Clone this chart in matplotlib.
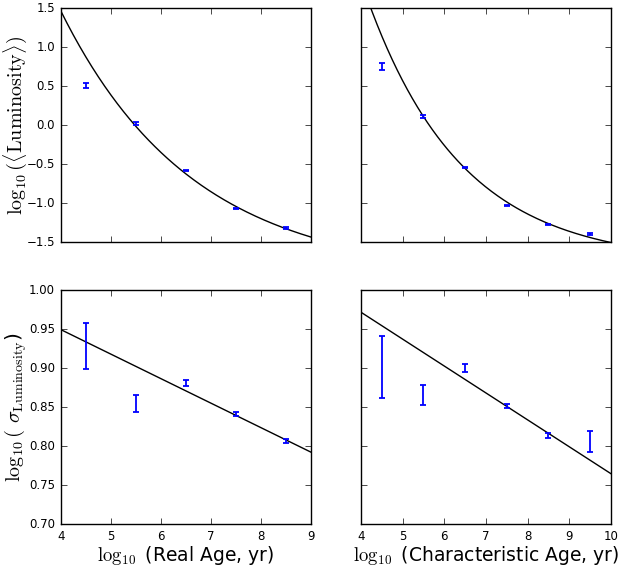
import matplotlib
matplotlib.use('Agg')
import matplotlib.pyplot as plt
import numpy as np

plt.style.use('classic')
plt.rcParams['mathtext.fontset'] = 'cm'
plt.rcParams['figure.facecolor'] = 'white'
plt.rcParams['savefig.facecolor'] = 'white'

# binned data
real_age = [4.5, 5.5, 6.5, 7.5, 8.5]
real_mean = [0.512, 0.026, -0.575, -1.061, -1.312]
real_mean_err = [0.034, 0.015, 0.008, 0.008, 0.010]
real_sigma = [0.9285, 0.8545, 0.881, 0.8417, 0.8066]
real_sigma_err = [0.0295, 0.0107, 0.0043, 0.0026, 0.0026]

char_age = [4.5, 5.5, 6.5, 7.5, 8.5, 9.5]
char_mean = [0.754, 0.115, -0.541, -1.031, -1.274, -1.393]
char_mean_err = [0.040, 0.015, 0.008, 0.008, 0.008, 0.015]
char_sigma = [0.9015, 0.8657, 0.9003, 0.8518, 0.8139, 0.806]
char_sigma_err = [0.0394, 0.0128, 0.0051, 0.0024, 0.0030, 0.013]

# fit parameters: mean ~ A*exp(-k*(x-x0)) + C, sigma ~ m*x + b
real_fit = (3.413, 0.379, 4.0, -1.943)
char_fit = (1.876, 0.439, 5.5, -1.761)
real_lin = (-0.0314, 1.0751)
char_lin = (-0.0345, 1.1098)


def expfit(x, p):
    A, k, x0, C = p
    return A * np.exp(-k * (x - x0)) + C


fig, axes = plt.subplots(2, 2, figsize=(6.19, 5.69), dpi=100, sharex='col', sharey='row')
fig.subplots_adjust(left=0.098, right=0.987, bottom=0.0786, top=0.9854, wspace=0.2, hspace=0.2035)

ebkw = dict(fmt='none', ecolor='b', elinewidth=1.3, capsize=2.5, capthick=1.3)
xlab = 13.5
ylab = 14.5

ax = axes[0, 0]
xx = np.linspace(4, 9, 200)
ax.plot(xx, expfit(xx, real_fit), 'k-', lw=1)
ax.errorbar(real_age, real_mean, yerr=real_mean_err, **ebkw)
ax.set_ylim(-1.5, 1.5)
ax.set_ylabel(r'$\log_{10}(\langle \mathrm{Luminosity} \rangle)$', fontsize=ylab)
ax.yaxis.set_label_coords(-0.125, 0.5)

ax = axes[0, 1]
xx = np.linspace(4, 10, 200)
ax.plot(xx, expfit(xx, char_fit), 'k-', lw=1)
ax.errorbar(char_age, char_mean, yerr=char_mean_err, **ebkw)

ax = axes[1, 0]
xx = np.array([4, 9])
ax.plot(xx, real_lin[0] * xx + real_lin[1], 'k-', lw=1)
ax.errorbar(real_age, real_sigma, yerr=real_sigma_err, **ebkw)
ax.set_xlim(4, 9)
ax.set_ylim(0.70, 1.00)
ax.set_ylabel(r'$\log_{10}($ $\sigma_{\mathrm{Luminosity}}$)', fontsize=ylab)
ax.yaxis.set_label_coords(-0.125, 0.5)
ax.set_xlabel(r'$\log_{10}$ (Real Age, yr)', fontsize=xlab, labelpad=1)

ax = axes[1, 1]
xx = np.array([4, 10])
ax.plot(xx, char_lin[0] * xx + char_lin[1], 'k-', lw=1)
ax.errorbar(char_age, char_sigma, yerr=char_sigma_err, **ebkw)
ax.set_xlim(4, 10)
ax.set_xlabel(r'$\log_{10}$ (Characteristic Age, yr)', fontsize=xlab, labelpad=1)

for a in axes.flat:
    a.tick_params(labelsize=8.5)

plt.savefig('out.png', dpi=100)
